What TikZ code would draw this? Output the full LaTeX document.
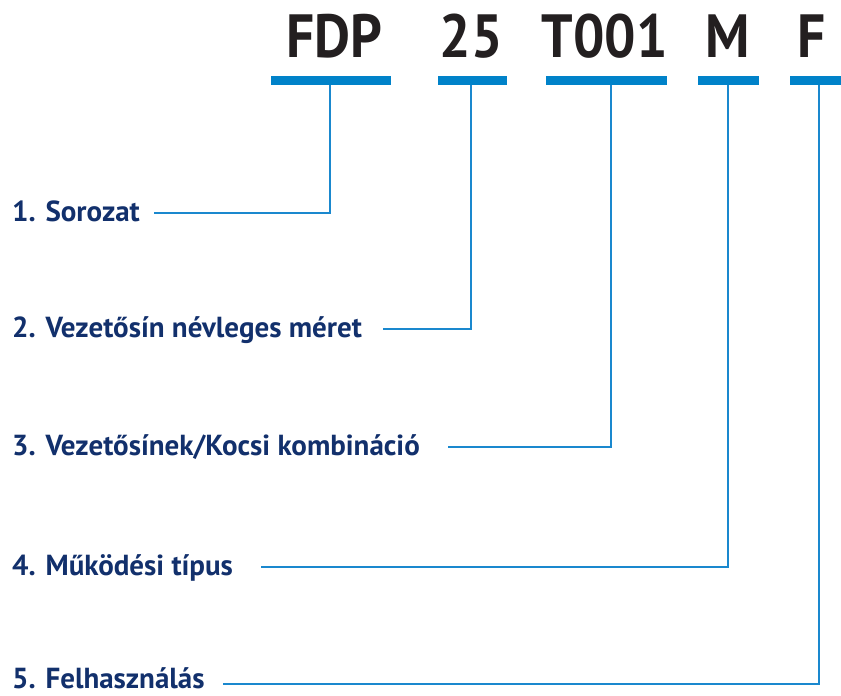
\documentclass[tikz,border=0pt]{standalone}
\usepackage{fontspec}
\setmainfont{PT Sans}
\definecolor{codeblack}{HTML}{231F20}
\definecolor{navy}{HTML}{12306C}
\definecolor{barblue}{HTML}{0082C9}
\definecolor{lineblue}{HTML}{1A88CE}
\newcommand{\codesq}[1]{\scalebox{0.91}[1]{#1}}
\begin{document}
\begin{tikzpicture}[x=1pt,y=-1pt,
  codetext/.style={anchor=base,inner sep=0pt,font=\fontsize{61}{61}\selectfont\bfseries,text=codeblack},
  bar/.style={fill=barblue,draw=none},
  labeltext/.style={anchor=base west,inner sep=0pt,font=\fontsize{29}{29}\selectfont\bfseries,text=navy},
  conn/.style={draw=lineblue,line width=2pt}]
\useasboundingbox (0,0) rectangle (841,696);
% codes
\node[codetext] (c1) at (334,57) {\codesq{FDP}};
\node[codetext] (c2) at (471,57) {\codesq{25}};
\node[codetext] (c3) at (604.5,57) {\codesq{T001}};
\node[codetext] (c4) at (727.5,57) {\codesq{M}};
\node[codetext] (c5) at (811.5,57) {\codesq{F}};
% bars
\fill[bar] (271,76) rectangle (391,85);
\fill[bar] (438,76) rectangle (507,85);
\fill[bar] (546,76) rectangle (667,85);
\fill[bar] (698,76) rectangle (759,85);
\fill[bar] (790,76) rectangle (841,85);
\coordinate (t1) at (330,85);
\coordinate (t2) at (471,85);
\coordinate (t3) at (611,85);
\coordinate (t4) at (728,85);
\coordinate (t5) at (819,85);
% labels
\node[labeltext] (l1) at (12,221) {1. Sorozat};
\node[labeltext] (l2) at (12,337) {2. Vezetősín névleges méret};
\node[labeltext] (l3) at (12,455) {3. Vezetősínek/Kocsi kombináció};
\node[labeltext] (l4) at (12,575) {4. Működési típus};
\node[labeltext] (l5) at (12,688) {5. Felhasználás};
\coordinate (s1) at (154,213);
\coordinate (s2) at (383,329);
\coordinate (s3) at (448,447);
\coordinate (s4) at (261,567);
\coordinate (s5) at (223,684);
% connectors
\draw[conn] (t1) |- (s1);
\draw[conn] (t2) |- (s2);
\draw[conn] (t3) |- (s3);
\draw[conn] (t4) |- (s4);
\draw[conn] (t5) |- (s5);
\end{tikzpicture}
\end{document}
